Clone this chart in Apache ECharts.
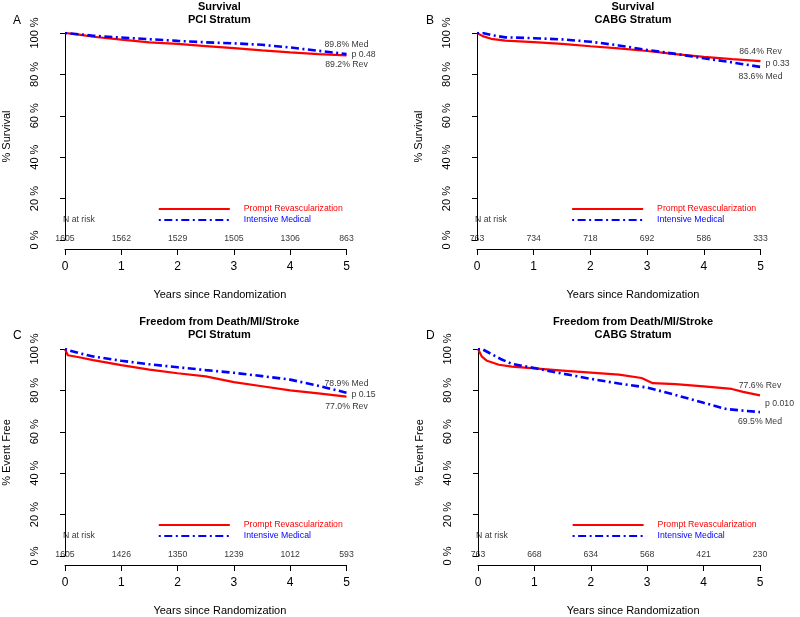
<!DOCTYPE html>
<html><head><meta charset="utf-8">
<script src="https://cdn.jsdelivr.net/npm/echarts@6/dist/echarts.min.js"></script>
<style>html,body{margin:0;padding:0;background:#fff}#c{width:800px;height:617px}</style>
</head><body><div id="c"></div>
<script>
// ---------- data ----------
const yearTicks = [0, 1, 2, 3, 4, 5];
const seriesNames = ['Prompt Revascularization', 'Intensive Medical'];
const xTitle = 'Years since Randomization';

// Panel A: Survival, PCI stratum
const titleA = 'Survival\nPCI Stratum';
const revTimeA = [0, 0.25, 0.5, 1, 1.5, 2, 2.5, 3, 3.5, 4, 4.5, 5];
const revA     = [100, 99.2, 98.2, 96.8, 95.5, 94.7, 93.7, 92.7, 91.6, 90.6, 89.8, 89.2];
const medTimeA = [0, 0.25, 0.5, 1, 1.5, 2, 2.5, 3, 3.5, 4, 4.5, 5];
const medA     = [100, 99.4, 98.7, 97.8, 97.0, 96.2, 95.5, 95.0, 94.3, 93.0, 91.4, 89.8];
const riskA    = [1605, 1562, 1529, 1505, 1306, 863];
const pA = 'p 0.48';

// Panel B: Survival, CABG stratum
const titleB = 'Survival\nCABG Stratum';
const revTimeB = [0, 0.1, 0.25, 0.5, 1, 1.5, 2, 2.5, 3, 3.5, 4, 4.5, 5];
const revB     = [100, 98.5, 97.2, 96.3, 95.6, 94.7, 93.6, 92.6, 91.3, 89.8, 88.5, 87.4, 86.4];
const medTimeB = [0, 0.1, 0.25, 0.5, 1, 1.5, 2, 2.5, 3, 3.5, 4, 4.5, 5];
const medB     = [100, 100, 99.0, 97.9, 97.5, 96.9, 95.8, 94.0, 91.8, 89.9, 87.8, 85.8, 83.6];
const riskB    = [763, 734, 718, 692, 586, 333];
const pB = 'p 0.33';

// Panel C: Freedom from Death/MI/Stroke, PCI stratum
const titleC = 'Freedom from Death/MI/Stroke\nPCI Stratum';
const revTimeC = [0, 0.05, 0.25, 0.5, 1, 1.5, 2, 2.5, 3, 3.5, 4, 4.5, 5];
const revC     = [100, 97.0, 96.0, 94.6, 92.2, 90.0, 88.3, 86.8, 84.0, 82.0, 80.0, 78.6, 77.0];
const medTimeC = [0, 0.05, 0.25, 0.5, 1, 1.5, 2, 2.5, 3, 3.5, 4, 4.5, 5];
const medC     = [100, 99.5, 98.0, 96.4, 94.3, 92.6, 91.2, 89.8, 88.5, 86.9, 85.2, 82.2, 78.9];
const riskC    = [1605, 1426, 1350, 1239, 1012, 593];
const pC = 'p 0.15';

// Panel D: Freedom from Death/MI/Stroke, CABG stratum
const titleD = 'Freedom from Death/MI/Stroke\nCABG Stratum';
const revTimeD = [0, 0.07, 0.16, 0.37, 0.6, 1, 1.5, 2, 2.5, 2.9, 3.1, 3.5, 4, 4.5, 4.7, 5];
const revD     = [100, 96.3, 94.3, 92.4, 91.5, 90.6, 89.6, 88.6, 87.6, 86.0, 83.5, 83.0, 81.9, 80.7, 79.3, 77.6];
const medTimeD = [0, 0.07, 0.4, 0.6, 1, 1.4, 2, 2.5, 3, 3.5, 4, 4.4, 5];
const medD     = [100, 100, 95.2, 92.8, 90.8, 88.6, 85.6, 83.3, 81.4, 77.8, 74.0, 71.0, 69.5];
const riskD    = [763, 668, 634, 568, 421, 230];
const pD = 'p 0.010';

// ---------- layout / style ----------
const RED = '#FF0000', BLUE = '#0000FF';
const FONT = '"Liberation Sans", Arial, Helvetica, sans-serif';
const panels = [
  {letter:'A', title:titleA, ylab:'% Survival',   rt:revTimeA, rv:revA, mt:medTimeA, mv:medA, risk:riskA, p:pA, left:64,  top:33,  width:282.5, lx:13,  titleY:0},
  {letter:'B', title:titleB, ylab:'% Survival',   rt:revTimeB, rv:revB, mt:medTimeB, mv:medB, risk:riskB, p:pB, left:477, top:33,  width:283.5, lx:426, titleY:0},
  {letter:'C', title:titleC, ylab:'% Event Free', rt:revTimeC, rv:revC, mt:medTimeC, mv:medC, risk:riskC, p:pC, left:64,  top:349, width:282.5, lx:13,  titleY:315},
  {letter:'D', title:titleD, ylab:'% Event Free', rt:revTimeD, rv:revD, mt:medTimeD, mv:medD, risk:riskD, p:pD, left:478, top:349, width:282,   lx:426, titleY:315}
];
const H = 207;
const pair = (t, v) => t.map((x, i) => [x, v[i]]);

const option = {
  animation: false,
  backgroundColor: '#fff',
  textStyle: {fontFamily: FONT},
  title: [], grid: [], xAxis: [], yAxis: [], legend: [], series: []
};

panels.forEach((pn, i) => {
  const pxPerYear = pn.width / 5;
  option.title.push({
    text: pn.title, left: pn.left + 2.75 * pxPerYear, top: pn.titleY, textAlign: 'center', padding: 0,
    textStyle: {fontFamily: FONT, fontSize: 11, fontWeight: 'bold', color: '#000', lineHeight: 13}
  });
  option.title.push({
    text: pn.letter, left: pn.lx, top: pn.titleY + 15, padding: 0,
    textStyle: {fontFamily: FONT, fontSize: 12, fontWeight: 'normal', color: '#000'}
  });
  option.grid.push({left: pn.left, top: pn.top, width: pn.width, height: H, containLabel: false});
  option.xAxis.push({
    type: 'value', gridIndex: i, min: 0, max: 5, interval: 1, offset: 9,
    axisLine: {show: true, onZero: false, lineStyle: {color: '#000', width: 1}},
    axisTick: {show: true, length: 6, lineStyle: {color: '#000'}},
    axisLabel: {fontSize: 12, color: '#000', margin: 12, fontFamily: FONT},
    splitLine: {show: false},
    name: xTitle, nameLocation: 'middle', nameGap: 40,
    nameTextStyle: {fontSize: 11, color: '#000', fontFamily: FONT, padding: [0, 0, 0, 0.5 * pxPerYear]}
  });
  option.yAxis.push({
    type: 'value', gridIndex: i, min: 0, max: 100, interval: 20, offset: 13,
    axisLine: {show: true, lineStyle: {color: '#000', width: 1}},
    axisTick: {show: true, length: 5, lineStyle: {color: '#000'}},
    axisLabel: {fontSize: 11, color: '#000', rotate: 90, margin: 12, formatter: '{value} %', fontFamily: FONT},
    splitLine: {show: false},
    name: pn.ylab, nameLocation: 'middle', nameGap: 40,
    nameTextStyle: {fontSize: 11, color: '#000', fontFamily: FONT}
  });
  option.legend.push({
    orient: 'vertical', left: pn.left + 1.66 * pxPerYear, top: pn.top + H - 15 * H / 100 - 5.5 - 3,
    itemWidth: 71, itemHeight: 11, itemGap: -6, padding: 0, selectedMode: false,
    itemStyle: {opacity: 0, color: 'rgba(0,0,0,0)', borderWidth: 0},
    data: [
      {name: seriesNames[0], textStyle: {color: RED}},
      {name: seriesNames[1], textStyle: {color: BLUE}}
    ],
    textStyle: {fontSize: 8.7, fontFamily: FONT, lineHeight: 11, padding: [0, 0, 6, 9]}
  });
  // curves
  option.series.push({
    name: seriesNames[0], type: 'line', xAxisIndex: i, yAxisIndex: i, data: pair(pn.rt, pn.rv),
    symbol: 'none', lineStyle: {color: RED, width: 2.2}, itemStyle: {color: RED}, z: 3
  });
  option.series.push({
    name: seriesNames[1], type: 'line', xAxisIndex: i, yAxisIndex: i, data: pair(pn.mt, pn.mv),
    symbol: 'none', lineStyle: {color: BLUE, width: 2.6, type: [2, 3.5, 8, 3.5]}, itemStyle: {color: BLUE}, z: 4
  });
  const lab = {show: true, fontSize: 8.7, color: '#000', fontFamily: FONT, formatter: p => p.value[2]};
  // numbers at risk
  option.series.push({
    type: 'scatter', xAxisIndex: i, yAxisIndex: i, silent: true, symbolSize: 0, clip: false,
    data: yearTicks.map((y, k) => [y, 0, pn.risk[k]]),
    label: Object.assign({}, lab, {position: 'inside', offset: [0, -1]})
  });
  option.series.push({
    type: 'scatter', xAxisIndex: i, yAxisIndex: i, silent: true, symbolSize: 0, clip: false,
    data: [[0, 10, 'N at risk']],
    label: Object.assign({}, lab, {position: 'inside', align: 'left', offset: [-2, 0]})
  });
  // end-of-curve annotations
  const rEnd = pn.rv[pn.rv.length - 1], mEnd = pn.mv[pn.mv.length - 1];
  const rTxt = rEnd.toFixed(1) + '% Rev', mTxt = mEnd.toFixed(1) + '% Med';
  const upper = rEnd >= mEnd ? [rEnd, rTxt] : [mEnd, mTxt];
  const lower = rEnd >= mEnd ? [mEnd, mTxt] : [rEnd, rTxt];
  option.series.push({
    type: 'scatter', xAxisIndex: i, yAxisIndex: i, silent: true, symbolSize: 0, clip: false,
    data: [
      {value: [5, upper[0], upper[1]], label: {position: 'top', distance: 5}},
      {value: [5, lower[0], lower[1]], label: {position: 'bottom', distance: 5}},
      {value: [5, (rEnd + mEnd) / 2, pn.p], label: {position: 'right', distance: 5}}
    ],
    label: lab
  });
});

const chart = echarts.init(document.getElementById('c'), null, {renderer: 'canvas', width: 800, height: 617});
chart.setOption(option);
</script>
</body></html>
